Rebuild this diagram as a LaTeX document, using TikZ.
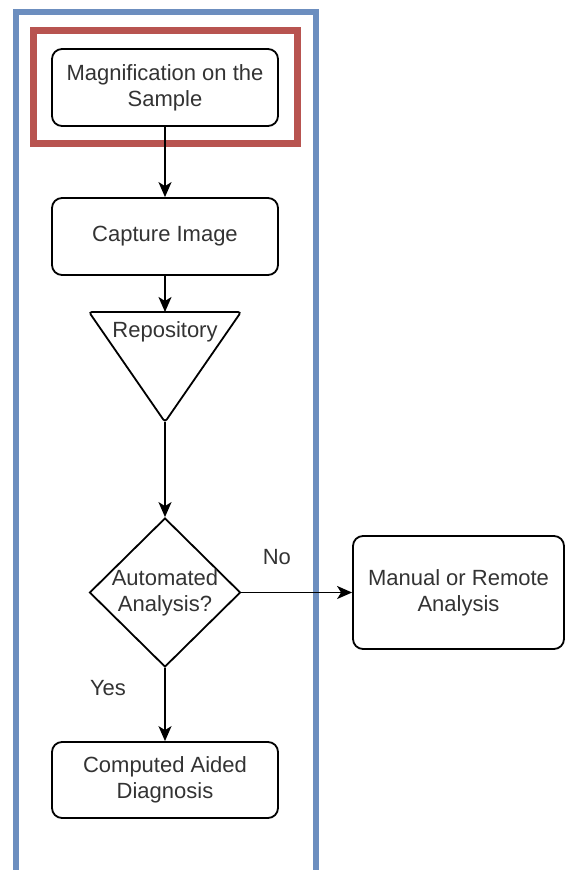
\documentclass[tikz,border=0pt]{standalone}
\usepackage{fontspec}
\setmainfont{Liberation Sans}
\definecolor{dgblue}{HTML}{6C8EBF}
\definecolor{dgred}{HTML}{B85450}
\definecolor{dgtext}{HTML}{333333}
\usetikzlibrary{arrows.meta,shapes.geometric}
\tikzset{
  stepbox/.style={draw, line width=1.8pt, rounded corners=10pt, minimum width=226pt, minimum height=77pt, align=center, text=dgtext, font=\fontsize{22}{26}\selectfont, inner sep=2pt},
  flowtxt/.style={text=dgtext, font=\fontsize{22}{26}\selectfont, align=center},
  flow/.style={-{Stealth[length=15pt,width=13pt,inset=4pt]}, line width=1.8pt},
}

\begin{document}
\begin{tikzpicture}[x=1pt, y=-1pt]
  \useasboundingbox (0,0) rectangle (566,870);
  \clip (0,0) rectangle (566,870);
  % Lane frame
  \draw[dgblue, line width=6.5pt] (16,12) rectangle (316,885);
  % Highlight round the first step
  \draw[dgred, line width=7pt] (33,30) rectangle (297,143);
  % Steps
  \node[stepbox] (mag) at (165,87.5) {Magnification on the\\Sample};
  \node[stepbox] (cap) at (165,236.5) {Capture Image};
  % Repository
  \coordinate (repoTop) at (165,312);
  \coordinate (repoTip) at (165,422);
  \draw[line width=1.8pt, rounded corners=3pt] (165,312) -- (241,312) -- (repoTip) -- (89,312) -- cycle;
  \node[flowtxt] (repo) at (165,332) {Repository};
  % Decision
  \node[diamond, draw, line width=1.8pt, minimum width=151pt, minimum height=149pt, inner sep=0pt,
        label={[flowtxt]center:Automated\\Analysis?}] (auto) at (165,592.5) {};
  \node[stepbox, minimum width=211pt, minimum height=113pt] (man) at (458.5,592.5) {Manual or Remote\\Analysis};
  \node[stepbox, minimum height=76pt] (cad) at (165,780) {Computed Aided\\Diagnosis};
  % Connectors
  \draw[flow] (mag) -- (cap);
  \draw[flow] (cap) -- (repoTop);
  \draw[flow] (repoTip) -- (auto);
  \draw[flow] (auto) -- node[flowtxt, pos=0.32, yshift=35pt] (no) {No} (man);
  \draw[flow] (auto) -- node[flowtxt, pos=0.27, xshift=-57pt] (yes) {Yes} (cad);
\end{tikzpicture}
\end{document}
